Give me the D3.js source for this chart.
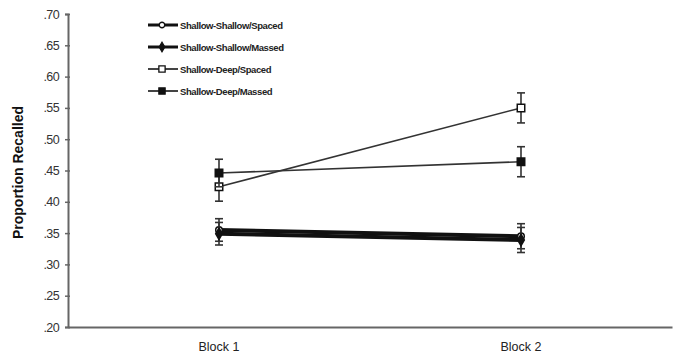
<!DOCTYPE html>
<html>
<head>
<meta charset="utf-8">
<script src="https://cdn.jsdelivr.net/npm/d3@7"></script>
<style>
  body { margin: 0; background: #fff; }
  svg { display: block; font-family: "Liberation Sans", Arial, sans-serif; }
</style>
</head>
<body>
<div id="chart"></div>
<script>
const blocks = ['Block 1', 'Block 2']
const seriesNames = ['Shallow-Shallow/Spaced', 'Shallow-Shallow/Massed', 'Shallow-Deep/Spaced', 'Shallow-Deep/Massed']
const shallowSpaced = [0.355, 0.345]
const shallowMassed = [0.349, 0.339]
const deepSpaced = [0.424, 0.550]
const deepMassed = [0.446, 0.464]
const shallowSpacedErr = [0.018, 0.020]
const shallowMassedErr = [0.018, 0.020]
const deepSpacedErr = [0.023, 0.024]
const deepMassedErr = [0.022, 0.024]
const yTicks = [0.20, 0.25, 0.30, 0.35, 0.40, 0.45, 0.50, 0.55, 0.60, 0.65, 0.70]

const width = 673, height = 362
const margin = { left: 68, right: 1, top: 14, bottom: 35 }

const svg = d3.select('#chart').append('svg')
  .attr('width', width).attr('height', height)

const x = d3.scaleBand().domain(blocks).range([margin.left, width - margin.right])
const y = d3.scaleLinear().domain([0.2, 0.7]).range([height - margin.bottom, margin.top])
const cx = b => x(b) + x.bandwidth() / 2

// series styling
const series = [
  { name: seriesNames[0], vals: shallowSpaced, err: shallowSpacedErr, marker: 'circle', fill: '#fff', lw: 4, color: '#111' },
  { name: seriesNames[1], vals: shallowMassed, err: shallowMassedErr, marker: 'diamond', fill: '#111', lw: 4, color: '#111' },
  { name: seriesNames[2], vals: deepSpaced, err: deepSpacedErr, marker: 'square', fill: '#fff', lw: 1.6, color: '#333' },
  { name: seriesNames[3], vals: deepMassed, err: deepMassedErr, marker: 'square', fill: '#111', lw: 1.6, color: '#333' }
]

const symbolFor = m => m === 'circle' ? d3.symbolCircle : m === 'diamond' ? d3.symbolDiamond : d3.symbolSquare
const sizeFor = m => m === 'circle' ? 34 : m === 'diamond' ? 38 : 56

// y axis
const yAxis = svg.append('g').attr('transform', `translate(${margin.left},0)`)
  .call(d3.axisLeft(y).tickValues(yTicks).tickSize(3).tickPadding(6)
    .tickFormat(d => d3.format('.2f')(d).replace(/^0/, '')))
yAxis.select('.domain').attr('stroke', '#666').attr('stroke-width', 2)
yAxis.selectAll('.tick line').attr('stroke', '#666').attr('stroke-width', 1.5).attr('x2', 2).attr('x1', -3)
yAxis.selectAll('.tick text').attr('font-size', 12.5).attr('fill', '#333')
  .attr('font-family', '"Liberation Sans", Arial, sans-serif').attr('letter-spacing', -0.6)

// x axis
const xAxis = svg.append('g').attr('transform', `translate(0,${y(0.2)})`)
  .call(d3.axisBottom(x).tickSize(0).tickPadding(15))
xAxis.select('.domain').attr('stroke', '#666').attr('stroke-width', 2)
xAxis.selectAll('.tick text').attr('font-size', 12.5).attr('fill', '#222')
  .attr('font-family', '"Liberation Sans", Arial, sans-serif')

// y title
svg.append('text')
  .attr('transform', `translate(23,${(y(0.2) + y(0.7)) / 2 + 2}) rotate(-90)`)
  .attr('text-anchor', 'middle')
  .attr('font-size', 14).attr('font-weight', 'bold').attr('fill', '#111')
  .text('Proportion Recalled')

const line = d3.line().x((d, i) => cx(blocks[i])).y(d => y(d))

// draw deep first, shallow on top
const drawOrder = [2, 3, 0, 1]
drawOrder.forEach(k => {
  const s = series[k]
  const g = svg.append('g')
  g.append('path').attr('d', line(s.vals))
    .attr('fill', 'none').attr('stroke', s.color).attr('stroke-width', s.lw)
  s.vals.forEach((v, i) => {
    const px = cx(blocks[i])
    const e = s.err[i]
    g.append('line').attr('x1', px).attr('x2', px).attr('y1', y(v - e)).attr('y2', y(v + e))
      .attr('stroke', '#333').attr('stroke-width', 1.6)
    ;[v - e, v + e].forEach(t => {
      g.append('line').attr('x1', px - 4).attr('x2', px + 4).attr('y1', y(t)).attr('y2', y(t))
        .attr('stroke', '#333').attr('stroke-width', 1.6)
    })
    g.append('path').attr('d', d3.symbol(symbolFor(s.marker), sizeFor(s.marker))())
      .attr('transform', `translate(${px},${y(v)})`)
      .attr('fill', s.fill).attr('stroke', '#111').attr('stroke-width', 1.5)
  })
})

// legend
const legendY = [25, 47, 69, 91]
const legend = svg.append('g')
series.forEach((s, i) => {
  const ly = legendY[i]
  legend.append('line').attr('x1', 148).attr('x2', 178).attr('y1', ly).attr('y2', ly)
    .attr('stroke', i < 2 ? '#111' : '#444').attr('stroke-width', i < 2 ? 3 : 2)
  legend.append('path').attr('d', d3.symbol(symbolFor(s.marker), sizeFor(s.marker) * 0.7)())
    .attr('transform', `translate(162,${ly})`)
    .attr('fill', s.fill).attr('stroke', '#111').attr('stroke-width', 1.3)
  legend.append('text').attr('x', 180).attr('y', ly + 3.5)
    .attr('font-size', 9.5).attr('font-weight', 'bold').attr('fill', '#222')
    .attr('letter-spacing', -0.4)
    .text(s.name)
})
</script>
</body>
</html>
